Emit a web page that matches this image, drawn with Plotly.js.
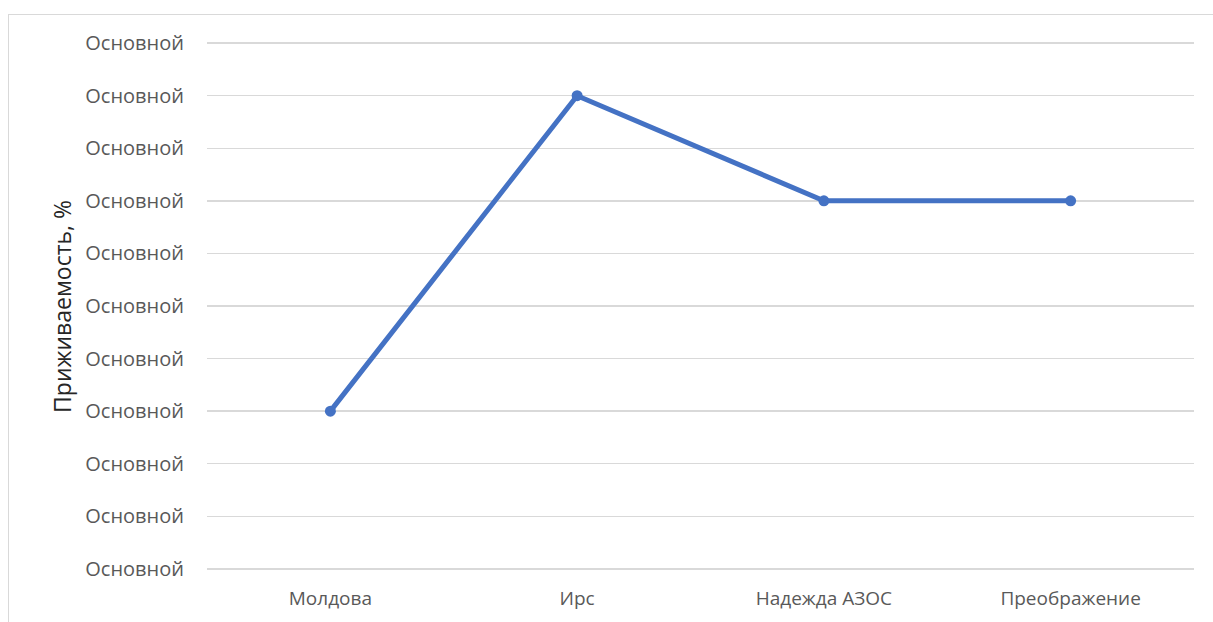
<!DOCTYPE html>
<html>
<head>
<meta charset="utf-8">
<script src="https://cdn.plot.ly/plotly-3.0.1.min.js"></script>
<style>
html,body{margin:0;padding:0;background:#fff;overflow:hidden;}
#frame{position:absolute;left:8px;top:14px;width:1300px;height:700px;border:1px solid #d9d9d9;box-sizing:border-box;pointer-events:none;z-index:5;}
#chart{position:absolute;left:0;top:0;width:1213px;height:622px;}
</style>
</head>
<body>
<div id="chart"></div>
<div id="frame"></div>
<script>
const categories = ["Молдова", "Ирс", "Надежда АЗОС", "Преображение"];
const values = [3, 9, 7, 7];
const tickValues = [0, 1, 2, 3, 4, 5, 6, 7, 8, 9, 10];
const tickLabels = ["Основной","Основной","Основной","Основной","Основной","Основной","Основной","Основной","Основной","Основной","Основной"];
const yTitle = "Приживаемость, %";

const font = "'Open Sans', sans-serif";

Plotly.newPlot("chart", [{
  x: categories,
  y: values,
  type: "scatter",
  mode: "lines+markers",
  line: {color: "#4472C4", width: 5},
  marker: {color: "#4472C4", size: 11},
  hoverinfo: "skip",
  cliponaxis: false
}], {
  width: 1213, height: 622,
  margin: {l: 207, r: 19, t: 41, b: 51},
  paper_bgcolor: "#fff", plot_bgcolor: "#fff",
  showlegend: false,
  font: {family: font, size: 20, color: "#595959"},
  xaxis: {
    type: "category", range: [-0.5, 3.5],
    showgrid: false, zeroline: false, showline: false,
    ticks: "", ticklabelstandoff: 14,
    tickfont: {family: font, size: 19, color: "#595959"}
  },
  yaxis: {
    range: [-0.04, 10.04], tickmode: "array", tickvals: tickValues, ticktext: tickLabels,
    showgrid: true, gridcolor: "#d9d9d9", gridwidth: 1.5,
    zeroline: false, showline: false, ticks: "",
    ticklabelstandoff: 22,
    tickfont: {family: font, size: 20, color: "#595959"}
  },
  annotations: [{
    text: yTitle, xref: "paper", yref: "paper", x: -0.147, y: 0.5,
    xanchor: "center", yanchor: "middle", textangle: -90, showarrow: false,
    font: {family: font, size: 23, color: "#262626"}
  }]
}, {displayModeBar: false, staticPlot: true});
</script>
</body>
</html>
